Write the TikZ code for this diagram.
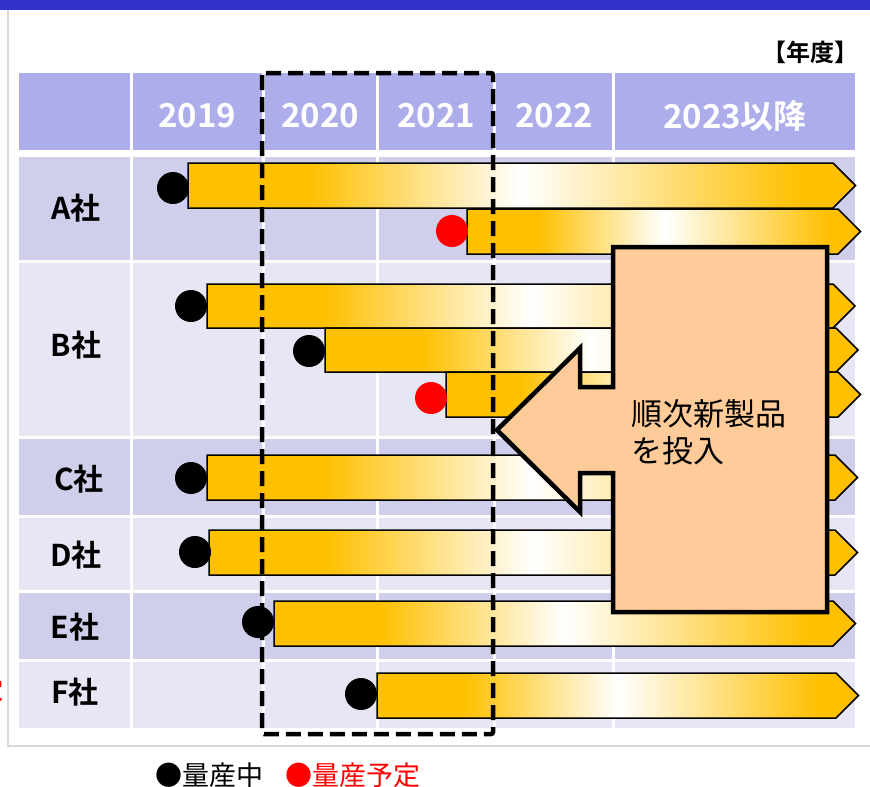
\documentclass[tikz,border=0pt]{standalone}
\usepackage{fontspec}
\setmainfont{Noto Sans CJK JP}[BoldFont={Noto Sans CJK JP Bold}]
\definecolor{gold}{HTML}{FFC000}
\definecolor{hdr}{HTML}{ADADEB}
\definecolor{rowdark}{HTML}{CFCFEB}
\definecolor{rowlight}{HTML}{E6E6F5}
\definecolor{topblue}{HTML}{3333CC}
\definecolor{framegrey}{HTML}{D9D9D9}
\definecolor{calloutfill}{HTML}{FFCC99}
\pgfdeclarehorizontalshading{barshade}{100bp}{color(0bp)=(gold); color(34bp)=(gold); color(50bp)=(white); color(71bp)=(gold); color(100bp)=(gold)}
\newcommand\ganttbar[4]{\path[ganttshape] (#1,#3) -- (#2,#3) -- ({#2+(#4-#3)/2},{(#3+#4)/2}) -- (#2,#4) -- (#1,#4) -- cycle;}
\begin{document}
\begin{tikzpicture}[x=1pt,y=-1pt,
  ganttshape/.style={draw=black,line width=1.5pt,line join=miter,shade,shading=barshade},
  dot/.style={circle,fill=black,minimum size=32pt,inner sep=0pt},
  reddot/.style={dot,fill=red},
  hdrtext/.style={text=white,font=\bfseries\fontsize{33}{38}\selectfont,inner sep=0pt},
  rowtext/.style={text=black,font=\bfseries\fontsize{30}{34}\selectfont,inner sep=0pt},
  callout/.style={draw=black,fill=calloutfill,line width=4.5pt,line join=miter},
  callouttext/.style={font=\fontsize{31}{37}\selectfont,align=left,inner sep=0pt,anchor=west},
  dashbox/.style={draw=black,line width=4.5pt,dash pattern=on 15pt off 7pt,rounded corners=2pt},
  legendtext/.style={font=\fontsize{27}{30}\selectfont,inner sep=0pt,anchor=west}]
\useasboundingbox (0,0) rectangle (870,787);
\fill[white] (0,0) rectangle (870,787);
% frame and top bar
\draw[framegrey,line width=2pt] (8,10) -- (8,746) -- (875,746);
\fill[topblue] (0,0) rectangle (870,10);
% table cells
\foreach \ya/\yb/\c in {73/150/hdr,157/260/rowdark,263/436/rowlight,439/515/rowdark,518/590/rowlight,593/659/rowdark,662/728/rowlight}
  \foreach \xa/\xb in {19/130,133/262,265/376,379/493,496/612,615/855}
    \fill[\c] (\xa,\ya) rectangle (\xb,\yb);
% header texts
\node[hdrtext] (h2019) at (197,116) {2019};
\node[hdrtext] (h2020) at (320,116) {2020};
\node[hdrtext] (h2021) at (436,116) {2021};
\node[hdrtext] (h2022) at (554,116) {2022};
\node[hdrtext] (h2023) at (735,116) {2023以降};
\node[font=\bfseries\fontsize{24}{28}\selectfont,inner sep=0pt,anchor=east] (unit) at (859,52) {【年度】};
% row labels
\node[rowtext] (rA) at (76,208) {A社};
\node[rowtext] (rB) at (76,345) {B社};
\node[rowtext] (rC) at (79,479) {C社};
\node[rowtext] (rD) at (76,555) {D社};
\node[rowtext] (rE) at (75,627) {E社};
\node[rowtext] (rF) at (75,692) {F社};
% bars
\ganttbar{188}{833}{163}{208}
\ganttbar{467}{838}{209}{254}
\ganttbar{207}{833}{284}{328}
\ganttbar{325}{836}{328}{372}
\ganttbar{446}{838}{372}{417}
\ganttbar{207}{835}{455}{500}
\ganttbar{209}{835}{530}{575}
\ganttbar{274}{833}{601}{646}
\ganttbar{377}{836}{673}{718}
% dots
\node[dot] (dA1) at (173,188) {};
\node[reddot] (dA2) at (452,231) {};
\node[dot] (dB1) at (191,306) {};
\node[dot] (dB2) at (309,351) {};
\node[reddot] (dB3) at (431,398) {};
\node[dot] (dC) at (191,478) {};
\node[dot] (dD) at (195,552) {};
\node[dot] (dE) at (258,622) {};
\node[dot] (dF) at (361,694) {};
% callout
\draw[callout] (613,247) -- (827,247) -- (827,612) -- (613,612) -- (613,473) -- (580,473) -- (580,512) -- (497,430) -- (580,348) -- (580,387) -- (613,387) -- cycle;
\node[callouttext] (ctext) at (631,432) {順次新製品\\を投入};
% dashed box
\draw[dashbox] (262,73) rectangle (493,734);
% legend
\node[legendtext] (leg1) at (155,775) {●量産中};
\node[legendtext,text=red] (leg2) at (285,775) {●量産予定};
% cut-off fragment at left edge (as in the reference)
\node[font=\bfseries\fontsize{24}{28}\selectfont,text=red,inner sep=0pt,anchor=east] (frag) at (4,690) {定};
\end{tikzpicture}
\end{document}
